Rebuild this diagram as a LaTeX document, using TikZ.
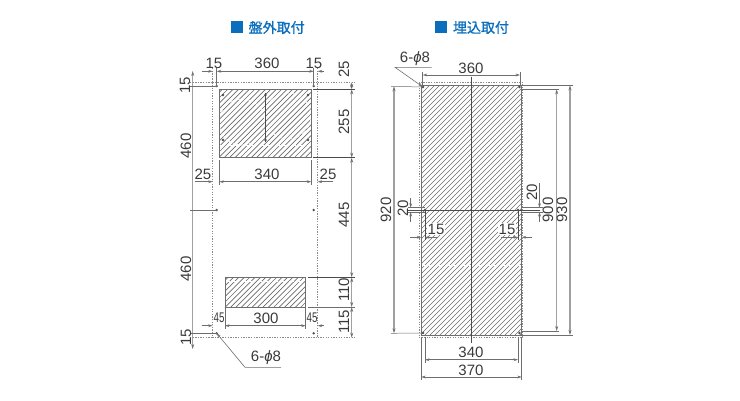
\documentclass[tikz,border=0pt]{standalone}
\usepackage{fontspec}
\setmainfont{Liberation Sans}
\newfontfamily\cjkfont[FakeBold=1.2]{Noto Sans CJK JP}
\usepackage{xcolor}
\usetikzlibrary{calc}
\usetikzlibrary{arrows.meta}
\definecolor{title_blue}{HTML}{0A6EBD}
\definecolor{line_gray}{HTML}{6E6E6E}
\definecolor{long_gray}{HTML}{A0A0A0}
\definecolor{dot_gray}{HTML}{8A8A8A}
\definecolor{hatch_gray}{HTML}{6A6A6A}
\definecolor{text_gray}{HTML}{3A3A3A}
\tikzset{
	x=1pt, y=-1pt,
	dimline/.style={draw=line_gray, line width=0.6pt, {Stealth[length=4.5pt,width=2.8pt]}-{Stealth[length=4.5pt,width=2.8pt]}},
	longdim/.style={draw=long_gray, line width=1.1pt, {Stealth[length=5pt,width=3pt,line_gray]}-{Stealth[length=5pt,width=3pt,line_gray]}},
	oneend/.style={draw=line_gray, line width=0.6pt, -{Stealth[length=4.5pt,width=2.8pt]}},
	extline/.style={draw=line_gray, line width=0.5pt},
	darkline/.style={draw=black!70, line width=0.55pt},
	dotline/.style={draw=dot_gray, line width=0.9pt, dash pattern=on 1.3pt off 1.3pt},
	hatchline/.style={draw=hatch_gray, line width=0.65pt},
	size/.style={font=\fontsize{15}{15}\selectfont, text=text_gray, inner sep=0pt},
	small_size/.style={font=\fontsize{14}{14}\selectfont, text=text_gray, inner sep=0pt, xscale=0.7, transform shape},
	vsize/.style={size, rotate=90},
	title/.style={font=\cjkfont\fontsize{14}{14}\selectfont, text=title_blue, inner sep=0pt},
}
\begin{document}
\begin{tikzpicture}
	\useasboundingbox (0, 0) rectangle (740, 400);

	\coordinate (LTL) at (212.7, 82.3);
	\coordinate (LBR) at (317.7, 337.7);
	\coordinate (H1) at (216.7, 86);
	\coordinate (H2) at (313.7, 86);
	\coordinate (H3) at (216.7, 210);
	\coordinate (H4) at (313.7, 210);
	\coordinate (H5) at (216.7, 333.3);
	\coordinate (H6) at (313.7, 333.3);
	\coordinate (A1) at (219.3, 89.3);
	\coordinate (A2) at (311.3, 157.7);
	\coordinate (B1) at (225, 277.3);
	\coordinate (B2) at (305.7, 307);
	\coordinate (RTL) at (419.3, 82.3);
	\coordinate (RBR) at (522.7, 337.7);
	\coordinate (C1) at (421.3, 85.3);
	\coordinate (C2) at (521.7, 335.3);
	\coordinate (J1) at (423, 87);
	\coordinate (J2) at (519.5, 87);
	\coordinate (J3) at (425, 210);
	\coordinate (J4) at (518, 210);
	\coordinate (J5) at (423, 333);
	\coordinate (J6) at (519.5, 333);

	\node[title, anchor=center] (title_left) at (276.7, 27.5) {盤外取付};
	\fill[title_blue] (231, 21) rectangle (242.7, 33.3);
	\node[title, anchor=center] (title_right) at (481, 27.5) {埋込取付};
	\fill[title_blue] (435, 21) rectangle (447, 33.3);

	\begin{scope}
		\clip (A1) rectangle (A2);
		\foreach \a in {0, 5.4, ..., 180}
			\draw[hatchline] (130 + \a, 160) -- ++(80, -80);
		\draw[white, line width=0.7pt, dash pattern=on 5pt off 3pt] (242, 122) circle (23);
		\draw[white, line width=0.7pt, dash pattern=on 5pt off 3pt] (288, 116) circle (23);
		\draw[white, line width=0.7pt, dash pattern=on 5pt off 3pt] (219, 145) -- (312, 145);
	\end{scope}
	\draw[line_gray, line width=0.5pt] (A1) rectangle (A2);
	\draw[darkline] (265.5, 93) -- (265.5, 142);
	\foreach \p in {(223, 95), (265.5, 95), (308, 95), (223, 140), (265.5, 140), (308, 140)}
		\fill[black!70] \p circle (1.3);

	\begin{scope}
		\clip (B1) rectangle (B2);
		\foreach \a in {0, 5.4, ..., 120}
			\draw[hatchline] (190 + \a, 310) -- ++(40, -40);
		\draw[white, line width=0.7pt, dash pattern=on 5pt off 3pt] (225, 281) -- (306, 281);
	\end{scope}
	\draw[line_gray, line width=0.5pt] (B1) rectangle (B2);

	\begin{scope}
		\clip (C1) rectangle (C2);
		\foreach \a in {0, 5, ..., 360}
			\draw[hatchline] (160 + \a, 340) -- ++(260, -260);
		\draw[white, line width=0.7pt, dash pattern=on 5pt off 3pt] (421, 265) -- (522, 265);
	\end{scope}
	\draw[line_gray, line width=0.5pt] (C1) rectangle (C2);

	\draw[dotline] (LTL) rectangle (LBR);
	\draw[dotline] (RTL) rectangle (RBR);
	\foreach \h in {H1, H2, H3, H4, H5, H6, J1, J2, J3, J4, J5, J6}
		\fill[black!70] (\h) circle (1.3);

	\draw[darkline] (471.7, 76.7) -- (471.7, 343);
	\draw[darkline] (408, 210) -- (540, 210);

	\draw[extline] (H1) -- (216.7, 68);
	\draw[extline] (H2) -- (313.7, 68);
	\draw[dotline] (LTL) -- (212.7, 68);
	\draw[dotline] (317.7, 82.3) -- (317.7, 68);
	\draw[oneend] (201.7, 71.3) -- (212.7, 71.3);
	\draw[dimline] (H1 |- 0, 71.3) -- (H2 |- 0, 71.3);
	\draw[oneend] (324, 71.3) -- (317.7, 71.3);
	\node[size] (dim_a) at (267, 63.3) {360};
	\node[size] (dim_b) at (214, 63.3) {15};
	\node[size] (dim_c) at (314, 63.3) {15};

	\draw[longdim] (192.7, 71) -- (192.7, 349);
	\draw[dotline] (190, 82.3) -- (LTL);
	\draw[extline] (190, 86) -- (H1);
	\draw[extline] (190, 210) -- (H3);
	\draw[extline] (190, 333.3) -- (H5);
	\draw[dotline] (190, 337.7) -- (212.7, 337.7);
	\node[vsize] (dim_d) at (185, 85) {15};
	\node[vsize] (dim_e) at (186, 146) {460};
	\node[vsize] (dim_f) at (186, 269) {460};
	\node[vsize] (dim_g) at (186, 337) {15};

	\draw[longdim] (351.7, 82.3) -- (351.7, 89.3);
	\draw[longdim] (351.7, 89.3) -- (351.7, 157.7);
	\draw[longdim] (351.7, 157.7) -- (351.7, 277.3);
	\draw[longdim] (351.7, 277.3) -- (351.7, 307);
	\draw[longdim] (351.7, 307) -- (351.7, 337.7);
	\draw[dotline] (317.7, 82.3) -- (355, 82.3);
	\draw[darkline] (313, 89.3) -- (355, 89.3);
	\draw[darkline] (313, 157.7) -- (355, 157.7);
	\draw[darkline] (308, 277.3) -- (355, 277.3);
	\draw[extline, line width=0.9pt] (308, 307) -- (355, 307);
	\draw[dotline] (317.7, 337.7) -- (355, 337.7);
	\node[vsize] (dim_h) at (344, 69) {25};
	\node[vsize] (dim_i) at (344, 122) {255};
	\node[vsize] (dim_j) at (344, 215) {445};
	\node[vsize] (dim_k) at (344, 290) {110};
	\node[vsize] (dim_l) at (344, 322) {115};

	\draw[extline] (219.3, 160) -- (219.3, 185);
	\draw[extline] (311.3, 160) -- (311.3, 185);
	\draw[oneend] (195, 181.7) -- (212.7, 181.7);
	\draw[dimline] (219.3, 181.7) -- (311.3, 181.7);
	\draw[oneend] (333, 181.7) -- (317.7, 181.7);
	\node[size] (dim_m) at (203, 174) {25};
	\node[size] (dim_n) at (267, 174) {340};
	\node[size] (dim_o) at (328, 174) {25};

	\draw[extline] (225, 307) -- (225, 329);
	\draw[extline] (305.7, 307) -- (305.7, 329);
	\draw[oneend] (201.7, 325.7) -- (212.7, 325.7);
	\draw[dimline] (225, 325.7) -- (305.7, 325.7);
	\draw[oneend] (324, 325.7) -- (317.7, 325.7);
	\node[small_size] (dim_p) at (219, 318) {45};
	\node[size] (dim_q) at (266, 318) {300};
	\node[small_size] (dim_r) at (312, 318) {45};

	\coordinate (L1) at (245, 367.3);
	\coordinate (L2) at (281, 367.3);
	\draw[oneend] (L2) -- (L1) -- (H5);
	\node[size] (hole_left) at (266, 358) {6-{\itshape ϕ}8};

	\coordinate (L3) at (395, 67.3);
	\coordinate (L4) at (431.7, 67.3);
	\draw[oneend] (L4) -- (L3) -- (J1);
	\node[size] (hole_right) at (415, 59) {6-{\itshape ϕ}8};

	\draw[extline] (422.7, 72) -- (422.7, 85);
	\draw[extline] (520, 72) -- (520, 85);
	\draw[dimline] (422.7, 75) -- (520, 75);
	\node[size] (dim_s) at (471, 68) {360};

	\draw[longdim] (394, 86.3) -- (394, 333.3);
	\draw[extline] (391, 86.3) -- (J1);
	\draw[extline] (391, 333.3) -- (J5);
	\node[vsize] (dim_t) at (386, 210) {920};

	\draw[extline] (408, 207.7) -- (425, 207.7);
	\draw[extline] (408, 212) -- (425, 212);
	\draw[oneend] (410.7, 198) -- (410.7, 207.7);
	\draw[oneend] (410.7, 222) -- (410.7, 212);
	\node[vsize] (dim_u) at (403, 208) {20};

	\draw[extline] (521, 207.7) -- (543, 207.7);
	\draw[extline] (521, 212) -- (543, 212);
	\draw[oneend] (539.5, 183) -- (539.5, 207.7);
	\draw[oneend] (539.5, 222) -- (539.5, 212);
	\node[vsize] (dim_v) at (532, 192) {20};

	\draw[extline] (522, 89.3) -- (559, 89.3);
	\draw[extline] (522, 331) -- (559, 331);
	\draw[longdim] (556.7, 89.3) -- (556.7, 331);
	\node[vsize] (dim_w) at (548, 210) {900};

	\draw[extline] (522, 85.3) -- (573, 85.3);
	\draw[extline] (522, 335) -- (573, 335);
	\draw[longdim] (570, 85.3) -- (570, 335);
	\node[vsize] (dim_x) at (562, 210) {930};

	\node[size, fill=white, inner sep=0.5pt] (dim_y) at (436, 229) {15};
	\node[size, fill=white, inner sep=0.5pt] (dim_z) at (507, 229) {15};
	\draw[darkline] (J3) -- (425, 240);
	\draw[darkline] (J4) -- (518, 240);
	\draw[oneend] (410, 237.3) -- (421.3, 237.3);
	\draw[oneend] (438, 237.3) -- (425, 237.3);
	\draw[oneend] (501, 237.3) -- (518, 237.3);
	\draw[oneend] (532, 237.3) -- (521.7, 237.3);

	\draw[extline] (425, 337) -- (425, 363);
	\draw[extline] (518, 337) -- (518, 363);
	\draw[extline] (421.3, 337) -- (421.3, 380);
	\draw[extline] (521.7, 337) -- (521.7, 380);
	\draw[dimline] (425, 359.7) -- (518, 359.7);
	\draw[dimline] (421.3, 377) -- (521.7, 377);
	\node[size] (dim_aa) at (471, 352) {340};
	\node[size] (dim_ab) at (471, 370) {370};
\end{tikzpicture}
\end{document}
